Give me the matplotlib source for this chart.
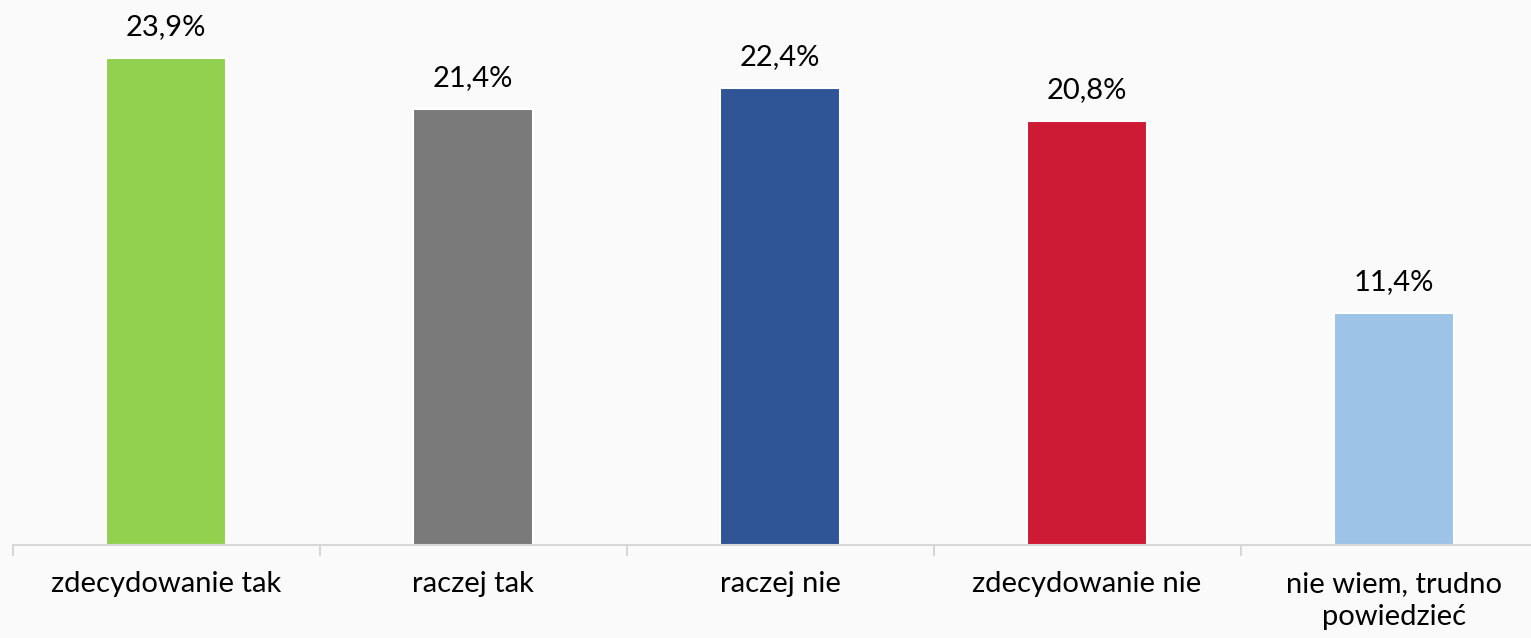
import numpy as np
import matplotlib.pyplot as plt

categories = ["zdecydowanie tak", "raczej tak", "raczej nie", "zdecydowanie nie", "nie wiem, trudno\npowiedzieć"]
values = [23.9, 21.4, 22.4, 20.8, 11.4]
labels = ["23,9%", "21,4%", "22,4%", "20,8%", "11,4%"]
colors = ["#92D050", "#7A7A7A", "#2F5597", "#CE1B35", "#9DC3E6"]

plt.rcParams['font.family'] = ['Lato', 'DejaVu Sans']

W, H = 1531, 638
fig = plt.figure(figsize=(W / 100, H / 100), dpi=100)
fig.patch.set_facecolor("#FAFAFA")

# plot area runs a little past the right edge, like the original
ax = fig.add_axes([12.5 / W, 93 / H, 1535 / W, 545 / H])
ax.set_facecolor("none")

x = np.arange(len(categories))
bars = ax.bar(x, values, width=0.39, color=colors, edgecolor="white", linewidth=1.5)

for b, lab in zip(bars, labels):
    ax.annotate(lab, (b.get_x() + b.get_width() / 2, b.get_height()),
                xytext=(0, 13), textcoords="offset points",
                ha="center", va="bottom", fontsize=21, color="black")

ax.set_xlim(-0.5, len(categories) - 0.5)
ax.set_ylim(0, 545 / 20.38)

for s in ["top", "right", "left"]:
    ax.spines[s].set_visible(False)
ax.spines["bottom"].set_color("#D0D0D0")
ax.spines["bottom"].set_linewidth(1.2)
ax.set_yticks([])

ax.set_xticks(x)
ax.set_xticklabels(categories, fontsize=21, linespacing=1.3)
ax.tick_params(axis="x", length=0, pad=19)
ax.set_xticks(np.arange(len(categories) + 1) - 0.5, minor=True)
ax.tick_params(axis="x", which="minor", length=8, color="#D0D0D0", width=1.2)

fig.savefig("out.png", dpi=100, facecolor=fig.get_facecolor())
